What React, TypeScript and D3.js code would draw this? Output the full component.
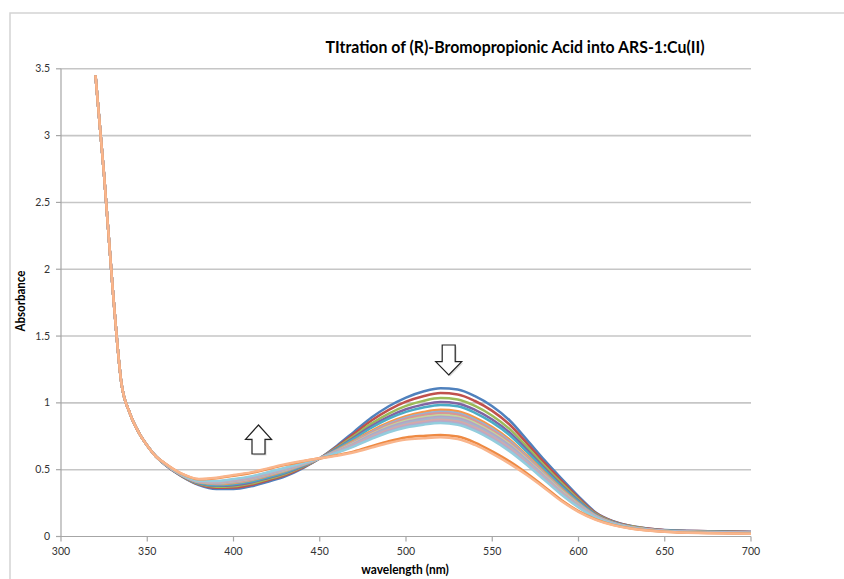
import React from "react";
import * as d3 from "d3";

const W = 844;
const H = 579;

const wavelengths = [320, 325, 330, 335, 340, 345, 350, 355, 360, 370, 380, 390, 400, 410, 420, 430, 440, 450, 460, 470, 480, 490, 500, 510, 520, 530, 540, 550, 560, 570, 580, 590, 600, 610, 620, 630, 640, 650, 675, 700];

const headValues = [3.45, 2.7, 1.85, 1.15, 0.92, 0.78, 0.68, 0.6];

const blueTail = [0.54, 0.45, 0.385, 0.355, 0.355, 0.375, 0.41, 0.45, 0.51, 0.585, 0.68, 0.785, 0.89, 0.975, 1.04, 1.085, 1.11, 1.10, 1.05, 0.975, 0.87, 0.725, 0.575, 0.435, 0.30, 0.18, 0.115, 0.08, 0.06, 0.048, 0.04, 0.035];
const redTail = [0.541, 0.452, 0.39, 0.364, 0.366, 0.386, 0.42, 0.459, 0.516, 0.585, 0.673, 0.77, 0.868, 0.948, 1.009, 1.05, 1.073, 1.063, 1.014, 0.94, 0.838, 0.699, 0.554, 0.418, 0.289, 0.175, 0.112, 0.078, 0.059, 0.047, 0.039, 0.034];
const greenTail = [0.542, 0.454, 0.394, 0.372, 0.376, 0.396, 0.43, 0.468, 0.521, 0.585, 0.665, 0.754, 0.845, 0.92, 0.977, 1.015, 1.036, 1.026, 0.977, 0.904, 0.805, 0.672, 0.533, 0.401, 0.277, 0.169, 0.109, 0.076, 0.057, 0.045, 0.037, 0.032];
const purpleTail = [0.543, 0.456, 0.398, 0.379, 0.384, 0.404, 0.438, 0.475, 0.525, 0.585, 0.659, 0.742, 0.827, 0.898, 0.952, 0.987, 1.007, 0.996, 0.948, 0.876, 0.779, 0.651, 0.516, 0.387, 0.268, 0.165, 0.107, 0.074, 0.056, 0.044, 0.036, 0.031];
const cyanTail = [0.543, 0.457, 0.4, 0.384, 0.391, 0.411, 0.444, 0.481, 0.529, 0.585, 0.655, 0.732, 0.814, 0.882, 0.933, 0.966, 0.985, 0.974, 0.926, 0.854, 0.76, 0.635, 0.504, 0.377, 0.261, 0.161, 0.105, 0.073, 0.055, 0.044, 0.035, 0.03];
const orangeTail = [0.544, 0.459, 0.405, 0.392, 0.401, 0.421, 0.454, 0.49, 0.534, 0.585, 0.647, 0.717, 0.791, 0.854, 0.901, 0.931, 0.948, 0.937, 0.889, 0.819, 0.727, 0.608, 0.483, 0.36, 0.249, 0.156, 0.102, 0.071, 0.053, 0.042, 0.033, 0.028];
const pale1Tail = [0.545, 0.46, 0.407, 0.396, 0.405, 0.425, 0.458, 0.493, 0.536, 0.585, 0.644, 0.711, 0.782, 0.843, 0.889, 0.917, 0.933, 0.922, 0.875, 0.805, 0.714, 0.598, 0.474, 0.353, 0.245, 0.154, 0.101, 0.07, 0.053, 0.042, 0.033, 0.028];
const pale2Tail = [0.545, 0.46, 0.408, 0.398, 0.409, 0.429, 0.461, 0.496, 0.538, 0.585, 0.642, 0.706, 0.775, 0.835, 0.879, 0.907, 0.922, 0.911, 0.864, 0.794, 0.704, 0.59, 0.468, 0.348, 0.241, 0.152, 0.1, 0.07, 0.052, 0.041, 0.032, 0.027];
const pale3Tail = [0.546, 0.461, 0.41, 0.402, 0.413, 0.433, 0.465, 0.5, 0.54, 0.585, 0.639, 0.7, 0.766, 0.824, 0.867, 0.893, 0.908, 0.897, 0.849, 0.78, 0.691, 0.579, 0.46, 0.342, 0.237, 0.15, 0.099, 0.069, 0.052, 0.041, 0.032, 0.027];
const pale4Tail = [0.546, 0.462, 0.411, 0.404, 0.416, 0.436, 0.468, 0.502, 0.542, 0.585, 0.637, 0.695, 0.76, 0.816, 0.857, 0.882, 0.897, 0.885, 0.838, 0.769, 0.682, 0.571, 0.453, 0.336, 0.233, 0.148, 0.098, 0.068, 0.051, 0.041, 0.031, 0.026];
const pale5Tail = [0.546, 0.462, 0.413, 0.407, 0.419, 0.439, 0.471, 0.505, 0.544, 0.585, 0.634, 0.69, 0.753, 0.807, 0.848, 0.872, 0.886, 0.874, 0.827, 0.758, 0.672, 0.563, 0.447, 0.331, 0.23, 0.146, 0.097, 0.068, 0.051, 0.04, 0.031, 0.026];
const pale6Tail = [0.547, 0.463, 0.414, 0.41, 0.423, 0.443, 0.475, 0.508, 0.546, 0.585, 0.632, 0.685, 0.745, 0.798, 0.837, 0.859, 0.873, 0.861, 0.815, 0.746, 0.66, 0.554, 0.44, 0.325, 0.226, 0.144, 0.096, 0.067, 0.05, 0.04, 0.03, 0.025];
const pale7Tail = [0.547, 0.464, 0.416, 0.413, 0.426, 0.446, 0.478, 0.511, 0.547, 0.585, 0.629, 0.68, 0.737, 0.788, 0.826, 0.847, 0.86, 0.848, 0.802, 0.734, 0.649, 0.545, 0.432, 0.319, 0.222, 0.143, 0.095, 0.066, 0.05, 0.039, 0.03, 0.025];
const pale8Tail = [0.547, 0.464, 0.417, 0.415, 0.43, 0.45, 0.481, 0.514, 0.549, 0.585, 0.627, 0.675, 0.73, 0.78, 0.816, 0.837, 0.849, 0.837, 0.791, 0.723, 0.639, 0.537, 0.426, 0.314, 0.218, 0.141, 0.094, 0.066, 0.049, 0.039, 0.029, 0.024];
const orange2Tail = [0.55, 0.469, 0.428, 0.436, 0.455, 0.475, 0.505, 0.536, 0.562, 0.585, 0.609, 0.637, 0.676, 0.713, 0.741, 0.753, 0.76, 0.748, 0.703, 0.637, 0.562, 0.473, 0.375, 0.273, 0.19, 0.128, 0.087, 0.061, 0.046, 0.036, 0.026, 0.021];
const peachTail = [0.55, 0.47, 0.43, 0.44, 0.46, 0.48, 0.51, 0.54, 0.565, 0.585, 0.605, 0.63, 0.665, 0.70, 0.725, 0.735, 0.742, 0.73, 0.685, 0.62, 0.545, 0.46, 0.365, 0.265, 0.185, 0.125, 0.085, 0.06, 0.045, 0.035, 0.025, 0.02];

const seriesColors = ["#4F81BD", "#C0504D", "#9BBB59", "#8064A2", "#4BACC6", "#F79646", "#95B3D7", "#D99694", "#C3D69B", "#B3A2C7", "#A5B5CB", "#D6A9A8", "#B8A9C9", "#93CDDD", "#EE8A43", "#F9B58C"];
const seriesTails = [blueTail, redTail, greenTail, purpleTail, cyanTail, orangeTail, pale1Tail, pale2Tail, pale3Tail, pale4Tail, pale5Tail, pale6Tail, pale7Tail, pale8Tail, orange2Tail, peachTail];

const xTicks = [300, 350, 400, 450, 500, 550, 600, 650, 700];
const yTicks = [0, 0.5, 1, 1.5, 2, 2.5, 3, 3.5];

const FONT = "Lato, 'Open Sans', sans-serif";

export default function App() {
  const x = d3.scaleLinear().domain([300, 700]).range([61, 751]);
  const y = d3.scaleLinear().domain([0, 3.5]).range([536.5, 68.8]);

  const line = d3
    .line<[number, number]>()
    .x((d) => x(d[0]))
    .y((d) => y(d[1]))
    .curve(d3.curveMonotoneX);

  const series = seriesTails.map((tail, i) => ({
    color: seriesColors[i],
    points: wavelengths.map((w, j) => [w, [...headValues, ...tail][j]] as [number, number]),
  }));

  const arrowPath = (cx: number, tipY: number, baseY: number, endY: number) => {
    const hw = 13;
    const sw = 6.5;
    return `M${cx},${tipY} L${cx + hw},${baseY} L${cx + sw},${baseY} L${cx + sw},${endY} L${cx - sw},${endY} L${cx - sw},${baseY} L${cx - hw},${baseY} Z`;
  };

  return (
    <svg width={W} height={H} style={{ position: "absolute", left: 0, top: 0, background: "#fff" }}>
      <rect x={0} y={0} width={W} height={H} fill="#fff" />
      <rect x={10} y={13} width={W + 20} height={H + 20} fill="none" stroke="#d4d4d4" strokeWidth={1.5} />

      <g transform="translate(515,53) scale(0.907,1)">
        <text x={0} y={0} textAnchor="middle" fontFamily={FONT} fontWeight="bold" fontSize={17.5} fill="#000">
          TItration of (R)-Bromopropionic Acid into ARS-1:Cu(II)
        </text>
      </g>

      {yTicks.map((t) => (
        <g key={"g" + t}>
          {t > 0 && (
            <line x1={x(300)} x2={x(700)} y1={y(t)} y2={y(t)} stroke="#c6c6c6" strokeWidth={1.6} />
          )}
          <line x1={56} x2={61} y1={y(t)} y2={y(t)} stroke="#a6a6a6" strokeWidth={1.2} />
          <text x={50} y={y(t) + 3.5} textAnchor="end" fontFamily={FONT} fontSize={10.5} fill="#333">
            {t}
          </text>
        </g>
      ))}

      <line x1={x(300)} x2={x(300)} y1={y(3.5)} y2={y(0)} stroke="#a6a6a6" strokeWidth={1.2} />
      <line x1={x(300)} x2={x(700)} y1={y(0)} y2={y(0)} stroke="#a6a6a6" strokeWidth={1.2} />
      {xTicks.map((t) => (
        <g key={"x" + t}>
          <line x1={x(t)} x2={x(t)} y1={y(0)} y2={y(0) + 5} stroke="#a6a6a6" strokeWidth={1.2} />
          <text x={x(t)} y={555} textAnchor="middle" fontFamily={FONT} fontSize={10.5} fill="#333">
            {t}
          </text>
        </g>
      ))}

      {series.map((s, i) => (
        <path key={i} d={line(s.points) || ""} fill="none" stroke={s.color} strokeWidth={2.5} strokeLinejoin="round" />
      ))}

      <g transform="translate(405,574) scale(0.92,1)">
        <text x={0} y={0} textAnchor="middle" fontFamily={FONT} fontWeight="bold" fontSize={13} fill="#000">
          wavelength (nm)
        </text>
      </g>
      <g transform="translate(25,301) rotate(-90) scale(0.92,1)">
        <text x={0} y={0} textAnchor="middle" fontFamily={FONT} fontWeight="bold" fontSize={12.5} fill="#000">
          Absorbance
        </text>
      </g>

      <g>
        <path d={arrowPath(450.2, 376.5, 363.2, 346.5)} fill="#bbb" opacity={0.5} />
        <path d={arrowPath(448.7, 375, 361.7, 345)} fill="#fff" stroke="#222" strokeWidth={1.2} />
        <path d={arrowPath(260, 426.5, 440.8, 455.5)} fill="#bbb" opacity={0.5} />
        <path d={arrowPath(258.5, 425, 439.3, 454)} fill="#fff" stroke="#222" strokeWidth={1.2} />
      </g>
    </svg>
  );
}
